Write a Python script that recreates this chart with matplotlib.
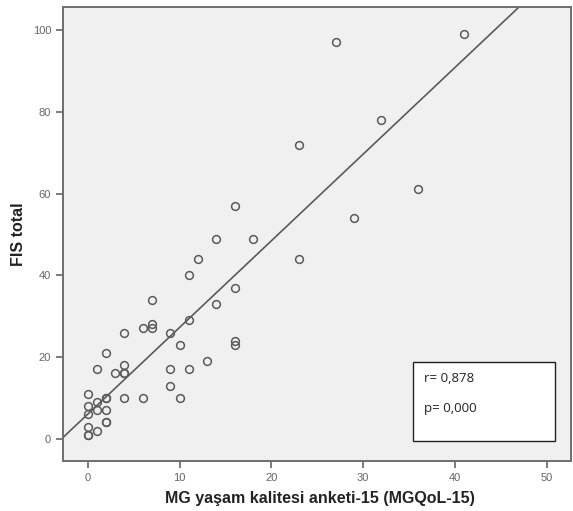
import numpy as np
import matplotlib.pyplot as plt

# =========================
# DATA
# =========================
mgqol = [0, 0, 0, 0, 0, 0,
         1, 1, 1, 1,
         2, 2, 2, 2, 2, 2,
         3,
         4, 4, 4, 4, 4,
         6, 6,
         7, 7, 7,
         9, 9, 9,
         10, 10,
         11, 11, 11,
         12, 13, 14, 14,
         16, 16, 16, 16,
         18, 23, 23, 27, 29, 32, 36, 41]
fis = [1, 1, 3, 6, 8, 11,
       2, 7, 9, 17,
       4, 4, 7, 10, 10, 21,
       16,
       10, 16, 16, 18, 26,
       10, 27,
       27, 28, 34,
       13, 17, 26,
       10, 23,
       17, 29, 40,
       44, 19, 33, 49,
       23, 24, 37, 57,
       49, 44, 72, 97, 54, 78, 61, 99]

x_ticks = [0, 10, 20, 30, 40, 50]
y_ticks = [0, 20, 40, 60, 80, 100]
stats_text = "r= 0,878\n\np= 0,000"

x_label = "MG yaşam kalitesi anketi-15 (MGQoL-15)"
y_label = "FIS total"

# =========================
# PLOT
# =========================
grey = "#5a5a5a"

fig = plt.figure(figsize=(5.73, 5.11), dpi=100)
ax = fig.add_axes([0.110, 0.098, 0.887, 0.888])
ax.set_facecolor("#f0f0f0")

ax.plot(mgqol, fis, linestyle="none", marker="o", markersize=5.6,
        markerfacecolor="none", markeredgecolor=grey, markeredgewidth=1.1)

# least squares fit line across the whole axis
slope, intercept = np.polyfit(mgqol, fis, 1)
xlim = (-2.7, 52.7)
xs = np.array(xlim)
ax.plot(xs, intercept + slope * xs, color=grey, linewidth=1.2)

ax.set_xlim(*xlim)
ax.set_ylim(-5.4, 105.6)
ax.set_xticks(x_ticks)
ax.set_yticks(y_ticks)
ax.tick_params(colors="#666666", labelsize=8, length=5, width=1.2, direction="out")
for lbl in ax.get_xticklabels() + ax.get_yticklabels():
    lbl.set_fontfamily("Liberation Sans")

for sp in ax.spines.values():
    sp.set_color("#6e6e6e")
    sp.set_linewidth(1.4)

ax.set_xlabel(x_label, fontsize=11.5, fontweight="bold", family="Liberation Sans",
              color="#222222", va="center")
ax.set_ylabel(y_label, fontsize=11.5, fontweight="bold", family="Liberation Sans",
              color="#222222", va="center")
ax.xaxis.set_label_coords(0.505, -0.082)
ax.yaxis.set_label_coords(-0.088, 0.5)

# r / p box
box = plt.Rectangle((0.689, 0.044), 0.278, 0.174, transform=ax.transAxes,
                    facecolor="white", edgecolor="#222222", linewidth=1.0, zorder=5)
ax.add_patch(box)
ax.text(0.711, 0.197, stats_text, transform=ax.transAxes, fontsize=9.5,
        family="Open Sans", va="top", ha="left", color="#222222", zorder=6,
        linespacing=1.2)

fig.savefig("out.png", dpi=100)
